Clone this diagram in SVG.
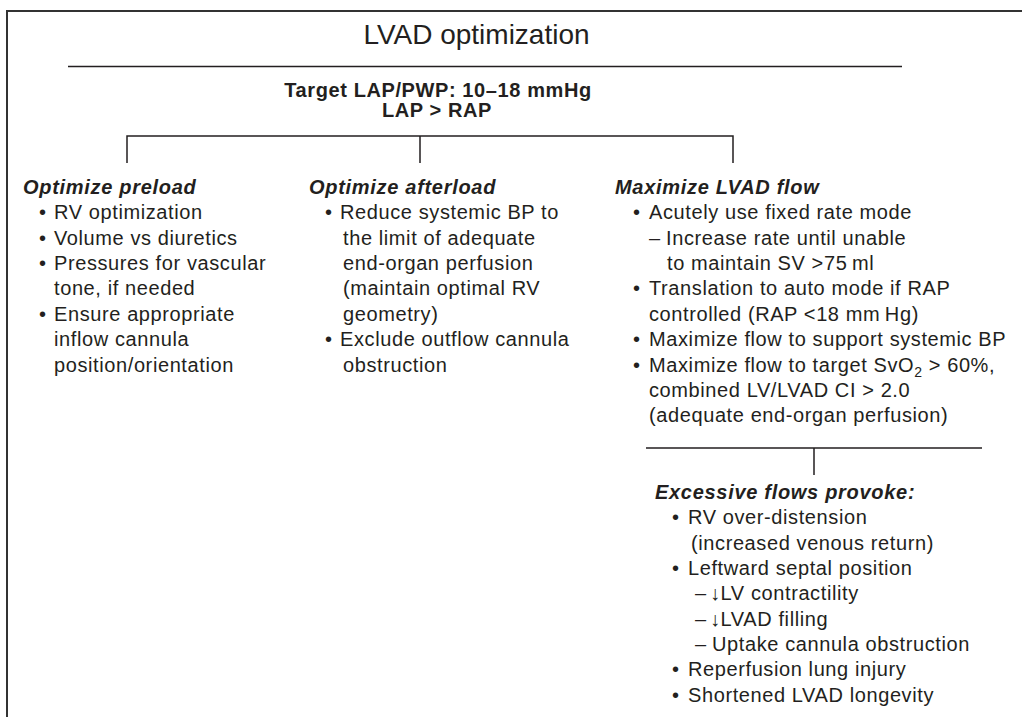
<svg xmlns="http://www.w3.org/2000/svg" width="1022" height="717" viewBox="0 0 1022 717">
<style>
text{font-family:"Liberation Sans",Arial,Helvetica,sans-serif;fill:#231f20}
.title{font-size:28px}
.sub{font-size:20px;font-weight:bold;letter-spacing:0.6px}
.h{font-size:20px;font-weight:bold;font-style:italic;letter-spacing:0.7px}
.b{font-size:20px;letter-spacing:0.6px}
.ln{stroke:#231f20;stroke-width:1.5;fill:none}
.frame{stroke:#333;stroke-width:2;fill:none}
</style>
<rect width="1022" height="717" fill="#fff"/>
<path class="frame" d="M7,717 V11 H1022"/>

<g id="title">
<text class="title" x="476.5" y="44.3" text-anchor="middle">LVAD optimization</text>
<line class="ln" x1="68" y1="66.5" x2="902" y2="66.5"/>
</g>

<g id="target">
<text class="sub" text-anchor="middle"><tspan x="438" y="97.3">Target LAP/PWP: 10–18 mmHg</tspan><tspan x="437" y="116.8">LAP &gt; RAP</tspan></text>
</g>

<g id="connectors">
<path class="ln" d="M127,163 V136 H733 V163 M420,136 V163"/>
<path class="ln" d="M646,448 H982 M814,448 V475"/>
</g>

<g id="preload">
<text class="h" x="23" y="193.5">Optimize preload</text>
<text class="b" x="39" y="219">•</text>
<text class="b" x="54" y="219">RV optimization</text>
<text class="b" x="39" y="244.5">•</text>
<text class="b" x="54" y="244.5">Volume vs diuretics</text>
<text class="b" x="39" y="270">•</text>
<text class="b" x="54" y="270">Pressures for vascular</text>
<text class="b" x="54" y="295">tone, if needed</text>
<text class="b" x="39" y="320.5">•</text>
<text class="b" x="54" y="320.5">Ensure appropriate</text>
<text class="b" x="54" y="346">inflow cannula</text>
<text class="b" x="54" y="371.5">position/orientation</text>
</g>

<g id="afterload">
<text class="h" x="309" y="193.5">Optimize afterload</text>
<text class="b" x="325" y="219">•</text>
<text class="b" x="340" y="219">Reduce systemic BP to</text>
<text class="b" x="343" y="244.5">the limit of adequate</text>
<text class="b" x="343" y="270">end-organ perfusion</text>
<text class="b" x="343" y="295">(maintain optimal RV</text>
<text class="b" x="343" y="320.5">geometry)</text>
<text class="b" x="325" y="346">•</text>
<text class="b" x="340" y="346">Exclude outflow cannula</text>
<text class="b" x="343" y="371.5">obstruction</text>
</g>

<g id="flow">
<text class="h" x="615" y="193.5">Maximize LVAD flow</text>
<text class="b" x="633" y="219">•</text>
<text class="b" x="649" y="219">Acutely use fixed rate mode</text>
<text class="b" x="649" y="244.5">–</text>
<text class="b" x="666" y="244.5">Increase rate until unable</text>
<text class="b" x="667" y="270">to maintain SV &gt;75&#8201;ml</text>
<text class="b" x="633" y="295">•</text>
<text class="b" x="649" y="295">Translation to auto mode if RAP</text>
<text class="b" x="649" y="320.5">controlled (RAP &lt;18 mm&#8201;Hg)</text>
<text class="b" x="633" y="346">•</text>
<text class="b" x="649" y="346">Maximize flow to support systemic BP</text>
<text class="b" x="633" y="371.5">•</text>
<text class="b" x="649" y="371.5">Maximize flow to target SvO<tspan font-size="14" dy="5">2</tspan><tspan dy="-5"> &gt; 60%,</tspan></text>
<text class="b" x="649" y="397">combined LV/LVAD CI &gt; 2.0</text>
<text class="b" x="649" y="422">(adequate end-organ perfusion)</text>
</g>

<g id="excessive">
<text class="h" x="655" y="498.5">Excessive flows provoke:</text>
<text class="b" x="672" y="524">•</text>
<text class="b" x="688" y="524">RV over-distension</text>
<text class="b" x="691" y="549.5">(increased venous return)</text>
<text class="b" x="672" y="575">•</text>
<text class="b" x="688" y="575">Leftward septal position</text>
<text class="b" x="695" y="600">–</text>
<text class="b" x="710" y="600">↓LV contractility</text>
<text class="b" x="695" y="625.5">–</text>
<text class="b" x="710" y="625.5">↓LVAD filling</text>
<text class="b" x="695" y="651">–</text>
<text class="b" x="712" y="651">Uptake cannula obstruction</text>
<text class="b" x="672" y="676">•</text>
<text class="b" x="688" y="676">Reperfusion lung injury</text>
<text class="b" x="672" y="701.5">•</text>
<text class="b" x="688" y="701.5">Shortened LVAD longevity</text>
</g>
</svg>
